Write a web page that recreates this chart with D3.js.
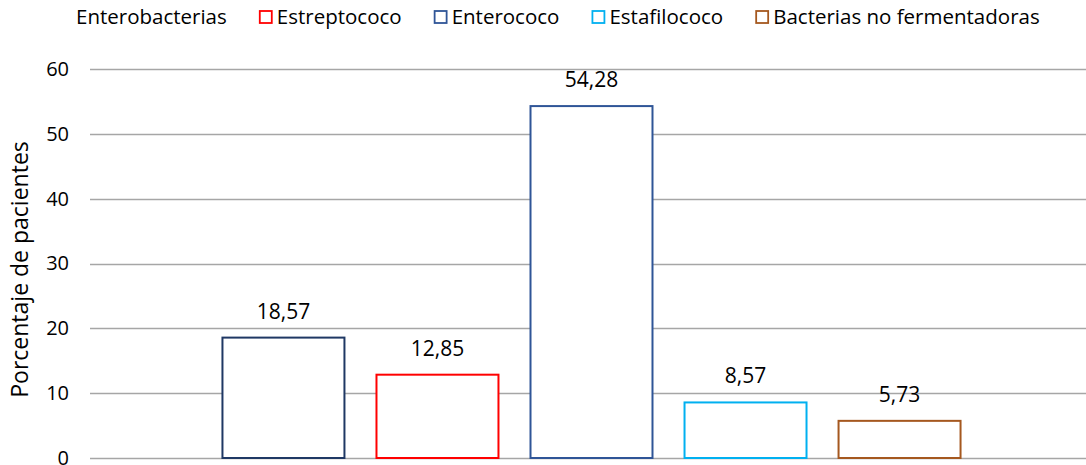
<!DOCTYPE html>
<html>
<head>
<meta charset="utf-8">
<script src="https://cdn.jsdelivr.net/npm/d3@7"></script>
<style>
  html, body { margin: 0; padding: 0; background: #fff; }
  svg { display: block; font-family: "Open Sans", Lato, sans-serif; }
</style>
</head>
<body>
<svg id="chart" width="1086" height="465"></svg>
<script>
// Series names, values and outline colours
const seriesNames = ["Enterobacterias", "Estreptococo", "Enterococo", "Estafilococo", "Bacterias no fermentadoras"];
const seriesValues = [18.57, 12.85, 54.28, 8.57, 5.73];
const seriesColors = ["#1F3864", "#FF0000", "#2F5597", "#00B0F0", "#A5581F"];
const showLegendMarker = [false, true, true, true, true];
const yTicks = [0, 10, 20, 30, 40, 50, 60];
const yTitle = "Porcentaje de pacientes";

const svg = d3.select("#chart");
const W = 1086, H = 465;
const plot = { left: 90, right: 1093, top: 69, bottom: 458 };

const y = d3.scaleLinear().domain([0, 60]).range([plot.bottom, plot.top]);
const x = d3.scaleBand()
  .domain(seriesNames)
  .range([plot.left, plot.right])
  .paddingInner(0.208)
  .paddingOuter(0.86);

const fmt = v => d3.format(".2f")(v).replace(".", ",");

// Horizontal gridlines
svg.append("g").selectAll("line").data(yTicks).join("line")
  .attr("x1", plot.left).attr("x2", W)
  .attr("y1", d => Math.round(y(d)) + 0.5).attr("y2", d => Math.round(y(d)) + 0.5)
  .attr("stroke", "#A6A6A6").attr("stroke-width", 1.5);

// Y axis tick labels
const yAxis = d3.axisLeft(y).tickValues(yTicks).tickSize(0).tickPadding(0);
const gy = svg.append("g").attr("transform", `translate(${plot.left - 21},0)`).call(yAxis);
gy.select(".domain").remove();
gy.selectAll("text").attr("font-size", 20).attr("fill", "#000")
  .attr("font-family", "'Open Sans', Lato, sans-serif");

// Y axis title
svg.append("text")
  .attr("transform", `translate(28,${(plot.top + plot.bottom) / 2 + 6}) rotate(-90)`)
  .attr("text-anchor", "middle")
  .attr("font-size", 23)
  .text(yTitle);

// Bars (outlined)
svg.append("g").selectAll("rect").data(seriesNames).join("rect")
  .attr("x", d => x(d))
  .attr("width", x.bandwidth())
  .attr("y", (d, i) => y(seriesValues[i]))
  .attr("height", (d, i) => y(0) - y(seriesValues[i]))
  .attr("fill", "#fff")
  .attr("stroke", (d, i) => seriesColors[i])
  .attr("stroke-width", 2);

// Value labels
svg.append("g").selectAll("text").data(seriesNames).join("text")
  .attr("x", d => x(d) + x.bandwidth() / 2)
  .attr("y", (d, i) => y(seriesValues[i]) - 19)
  .attr("text-anchor", "middle")
  .attr("font-size", 21)
  .text((d, i) => fmt(seriesValues[i]));

// Legend
const legend = svg.append("g");
let lx = 76;
seriesNames.forEach((name, i) => {
  if (showLegendMarker[i]) {
    legend.append("rect")
      .attr("x", lx - 17).attr("y", 11)
      .attr("width", 12).attr("height", 12)
      .attr("fill", "#fff")
      .attr("stroke", seriesColors[i]).attr("stroke-width", 1.8);
  }
  const t = legend.append("text")
    .attr("x", lx).attr("y", 24)
    .attr("font-size", 20.5)
    .text(name);
  lx += t.node().getComputedTextLength() + 50;
});
</script>
</body>
</html>
